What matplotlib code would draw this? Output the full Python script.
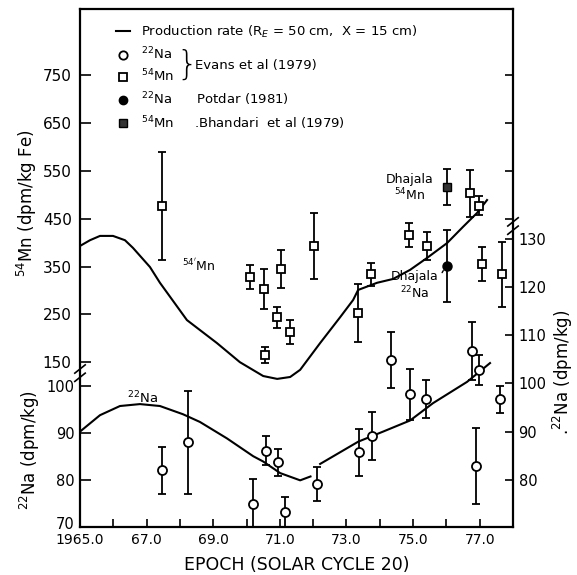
import numpy as np
import matplotlib
matplotlib.use('Agg')
import matplotlib.pyplot as plt
from matplotlib.lines import Line2D
from matplotlib.transforms import ScaledTranslation

# ---- data ----
# 54Mn, Evans et al (1979)  (dpm/kg Fe)
mn_year = [1967.46, 1970.11, 1970.53, 1971.04, 1972.03, 1970.92, 1971.31, 1970.56,
           1976.71, 1976.98, 1974.88, 1975.42, 1977.07, 1977.67, 1973.74, 1973.35]
mn_val = [477, 328, 303, 345, 393, 244, 213, 165, 503, 477, 416, 393, 355, 334, 334, 253]
mn_err = [113, 25, 42, 40, 69, 22, 26, 17, 49, 20, 25, 30, 36, 68, 24, 61]

# 22Na, Evans et al (1979)  (dpm/kg)
na_year = [1967.45, 1968.25, 1970.58, 1970.93, 1970.18, 1971.14, 1972.11, 1973.38,
           1973.78, 1974.33, 1974.91, 1975.38, 1976.77, 1976.97, 1977.60, 1976.90]
na_val = [82.0, 87.8, 86.0, 83.6, 75.0, 73.3, 79.1, 85.7, 89.1, 104.8, 97.7, 96.8,
          106.7, 102.8, 96.7, 82.9]
na_err = [4.9, 10.7, 3.0, 2.8, 5.1, 3.1, 3.5, 4.9, 5.0, 5.8, 5.3, 3.9, 6.0, 3.1, 2.8, 7.9]

# Dhajala
potdar_year, potdar_na, potdar_err = [1976.02], [124.3], [7.5]
bhandari_year, bhandari_mn, bhandari_err = [1976.02], [516], [38]

# production rate curves (RE = 50 cm, X = 15 cm)
mn_curve_year = [1965.00, 1965.30, 1965.60, 1965.99, 1966.35, 1966.59, 1967.10, 1967.40,
                 1968.21, 1969.11, 1969.80, 1970.50, 1970.92, 1971.31, 1971.61, 1972.21,
                 1972.81, 1973.20, 1973.35, 1973.92, 1974.40, 1974.91, 1975.42, 1976.02,
                 1976.50, 1976.92, 1977.22]
mn_curve = [393, 405, 414, 414, 405, 389, 349, 316, 238, 190, 150, 121, 115, 119, 134, 190,
            244, 280, 301, 316, 324, 343, 368, 399, 433, 462, 489]

na_curve_year = [1965.00, 1965.60, 1966.20, 1966.80, 1967.40, 1968.09, 1968.60, 1969.41,
                 1970.20, 1970.50, 1971.01, 1971.61, 1971.92, 1971.95, 1972.21, 1973.35,
                 1974.10, 1974.91, 1975.60, 1976.62, 1977.31]
na_curve = [90.0, 93.4, 95.3, 95.7, 95.3, 93.6, 92.0, 88.6, 84.9, 83.8, 81.4, 79.9, 80.7,
            np.nan, 83.3, 87.9, 90.0, 92.3, 95.9, 100.3, 104.2]

x_major = [1965, 1967, 1969, 1971, 1973, 1975, 1977]
x_labels = ['1965.0', '67.0', '69.0', '71.0', '73.0', '75.0', '77.0']
mn_ticks = [150, 250, 350, 450, 550, 650, 750]
mn_ticks_right = [450, 550, 650, 750]
na_ticks_left = [70, 80, 90, 100]
na_ticks_right = [80, 90, 100, 110, 120, 130]

W, H = 577, 575
fig = plt.figure(figsize=(W / 100, H / 100), dpi=100)
L, R, T, B = 80, 513, 9, 527
ax = fig.add_axes([L / W, 1 - B / H, (R - L) / W, (B - T) / H])
ax_l = ax.twinx()
ax_mn = ax.twinx()
ax_mnr = ax.twinx()

ax.set_xlim(1965, 1978)
ax.set_ylim(70.23, 177.57)       # Na, right-hand calibration
ax_l.set_ylim(70.0, 180.6)       # Na, left-hand calibration
ax_mn.set_ylim(-194.7, 888.5)    # Mn
ax_mnr.set_ylim(-194.7, 888.5)

for a in (ax_l, ax_mn, ax_mnr):
    for s in a.spines.values():
        s.set_visible(False)
for s in ax.spines.values():
    s.set_linewidth(1.6)

# ticks
ax.set_xticks(x_major)
ax.set_xticklabels(x_labels)
ax.set_xticks(np.arange(1966, 1978, 2), minor=True)
ax.tick_params(axis='x', which='both', direction='in', length=6, width=1.2,
               top=False, labelsize=10, pad=4.5)

ax.yaxis.tick_right()
ax.set_yticks(na_ticks_right)
ax.tick_params(axis='y', direction='in', length=6, width=1.2, labelsize=10.5,
               left=False, right=True, labelleft=False, labelright=True, pad=4)

ax_l.yaxis.tick_left()
ax_l.set_yticks(na_ticks_left)
ax_l.tick_params(axis='y', direction='in', length=8, width=1.2, labelsize=10.5,
                 left=True, right=False, labelleft=True, labelright=False, pad=4)
lbl70 = ax_l.get_yticklabels()[0]
lbl70.set_transform(lbl70.get_transform() + ScaledTranslation(0, 0.04, fig.dpi_scale_trans))

ax_mn.yaxis.tick_left()
ax_mn.set_yticks(mn_ticks)
ax_mn.tick_params(axis='y', direction='in', length=8, width=1.2, labelsize=11,
                  left=True, right=False, labelleft=True, labelright=False, pad=6)

ax_mnr.set_yticks(mn_ticks_right)
ax_mnr.tick_params(axis='y', direction='in', length=6, width=1.2,
                   left=False, right=True, labelleft=False, labelright=False)

# curves
ax.plot(na_curve_year, na_curve, color='k', lw=1.5, zorder=2)
ax_mn.plot(mn_curve_year, mn_curve, color='k', lw=1.5, zorder=2)

eb = dict(fmt='none', ecolor='k', elinewidth=1.3, capsize=3, capthick=1.3, zorder=3)
ax.errorbar(na_year, na_val, yerr=na_err, **eb)
ax.plot(na_year, na_val, 'o', ms=6.5, mfc='white', mec='k', mew=1.3, zorder=4)
ax.errorbar(potdar_year, potdar_na, yerr=potdar_err, **eb)
ax.plot(potdar_year, potdar_na, 'o', ms=6.5, mfc='k', mec='k', zorder=4)

ax_mn.errorbar(mn_year, mn_val, yerr=mn_err, **eb)
ax_mn.plot(mn_year, mn_val, 's', ms=6, mfc='white', mec='k', mew=1.3, zorder=4)
ax_mn.errorbar(bhandari_year, bhandari_mn, yerr=bhandari_err, **eb)
ax_mn.plot(bhandari_year, bhandari_mn, 's', ms=6, mfc='0.2', mec='k', zorder=4)

# annotations
ax.text(1966.4, 97.0, '$^{22}$Na', fontsize=9.5, ha='left', va='center')
ax_mn.text(1968.05, 351, "$^{54'}$Mn", fontsize=9, ha='left', va='center')
ax_mn.text(1974.9, 514, 'Dhajala\n$^{54}$Mn', fontsize=9, ha='center', va='center',
           linespacing=1.1)
ax.annotate('Dhajala\n$^{22}$Na', xy=(1975.97, 124.1), xytext=(1975.05, 120.3),
            fontsize=9, ha='center', va='center', linespacing=1.1,
            arrowprops=dict(arrowstyle='-', color='k', lw=1.0, shrinkA=1, shrinkB=3,
                            relpos=(1.0, 0.72)))

# axis breaks
for a_y, xa in ((0.297, 0.0), (0.581, 1.0)):
    for off in (-0.008, 0.008):
        ax.plot([xa - 0.012, xa + 0.012], [a_y + off - 0.008, a_y + off + 0.008],
                transform=ax.transAxes, color='k', lw=1.2, clip_on=False)

# legend
handles = [Line2D([], [], color='k', lw=1.5),
           Line2D([], [], ls='none', marker='o', ms=6, mfc='white', mec='k', mew=1.3),
           Line2D([], [], ls='none', marker='s', ms=6, mfc='white', mec='k', mew=1.3),
           Line2D([], [], ls='none', marker='o', ms=6, mfc='k', mec='k'),
           Line2D([], [], ls='none', marker='s', ms=6, mfc='0.2', mec='k')]
labels = ['Production rate (R$_E$ = 50 cm,  X = 15 cm)',
          '$^{22}$Na', '$^{54}$Mn',
          '$^{22}$Na      Potdar (1981)',
          '$^{54}$Mn     .Bhandari  et al (1979)']
ax_mnr.legend(handles, labels, loc='upper left', bbox_to_anchor=(0.084, 0.972),
              frameon=False, fontsize=9.5, handlelength=1.0, handletextpad=0.9,
              labelspacing=0.45, borderpad=0, borderaxespad=0, numpoints=1)
ax.text(0.247, 0.891, '}', transform=ax.transAxes, fontsize=24, ha='center',
        va='center', fontweight='light')
ax.text(0.266, 0.891, 'Evans et al (1979)', transform=ax.transAxes, fontsize=9.5,
        ha='left', va='center')

# axis labels
fig.text(27 / W, 1 - 203 / H, '$^{54}$Mn (dpm/kg Fe)', rotation=90, fontsize=12,
         ha='center', va='center')
fig.text(30 / W, 1 - 450 / H, '$^{22}$Na (dpm/kg)', rotation=90, fontsize=12,
         ha='center', va='center')
fig.text(563 / W, 1 - 372 / H, '.$^{22}$Na (dpm/kg)', rotation=90, fontsize=12,
         ha='center', va='center')
fig.text(297 / W, 1 - 565 / H, 'EPOCH (SOLAR CYCLE 20)', fontsize=12.5,
         ha='center', va='center')

fig.savefig('out.png', dpi=100)
